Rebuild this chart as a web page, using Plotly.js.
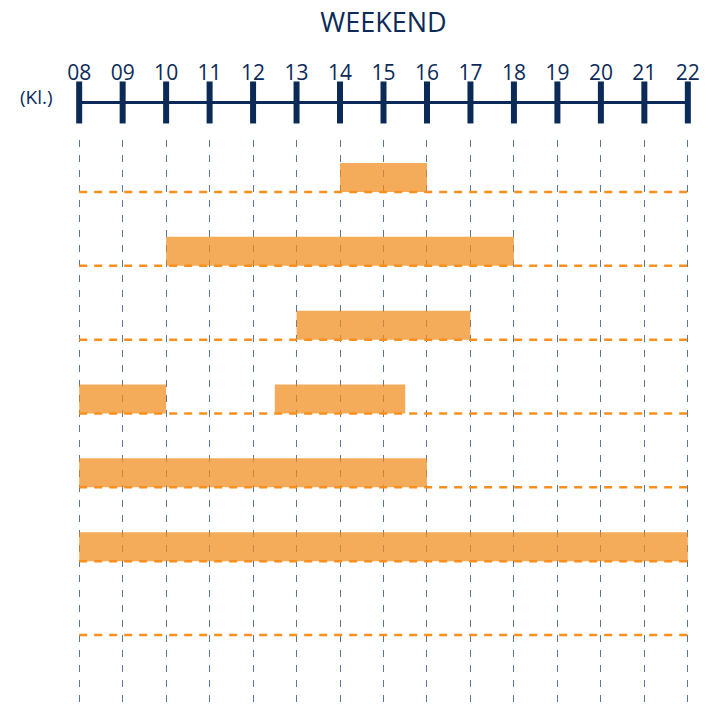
<!DOCTYPE html>
<html>
<head>
<meta charset="utf-8">
<script src="https://cdn.plot.ly/plotly-3.0.1.min.js"></script>
<style>html,body{margin:0;padding:0;background:#fff;}#chart{width:716px;height:708px;}</style>
</head>
<body>
<div id="chart"></div>
<script>
// Hours on the time axis
const hours = [8,9,10,11,12,13,14,15,16,17,18,19,20,21,22];
const hourLabels = ['08','09','10','11','12','13','14','15','16','17','18','19','20','21','22'];
// Rows (top to bottom)
const rows = [1,2,3,4,5,6,7];
// Bar segments: row, start hour, end hour
const segRow   = [1, 2, 3, 4, 4,    5, 6];
const segStart = [14,10,13, 8, 12.5, 8, 8];
const segEnd   = [16,18,17,10, 15.5,16,22];

const navy = '#0b2a58';
const barW = 0.393;

const hMin = hours[0], hMax = hours[hours.length-1];
const pad = 0.05;

const barTrace = {
  type: 'bar', orientation: 'h',
  y: segRow,
  base: segStart,
  x: segEnd.map((e,i)=> e - segStart[i]),
  width: barW, offset: -barW,
  marker: {color: 'rgba(241,140,26,0.72)', line: {width: 0}},
  hoverinfo: 'skip', xaxis: 'x', yaxis: 'y'
};

const bx = [], by = [];
rows.forEach(r => { bx.push(hMin, hMax, null); by.push(r, r, null); });
const baseTrace = {
  type: 'scatter', mode: 'lines', x: bx, y: by,
  line: {color: '#f7901e', width: 2.5, dash: '8px,7px'},
  hoverinfo: 'skip', xaxis: 'x', yaxis: 'y'
};

const axisTrace = {
  type: 'scatter', mode: 'lines+markers',
  x: hours, y: hours.map(()=>0),
  line: {color: navy, width: 3},
  marker: {symbol: 'line-ns', size: 30, color: navy, line: {color: navy, width: 6}},
  cliponaxis: false, hoverinfo: 'skip', xaxis: 'x2', yaxis: 'y2'
};

const layout = {
  width: 716, height: 708,
  margin: {l: 77, r: 26, t: 0, b: 0},
  paper_bgcolor: '#fff', plot_bgcolor: '#fff',
  showlegend: false,
  font: {family: 'Open Sans, sans-serif', color: navy},
  title: {text: 'WEEKEND', font: {size: 27, color: navy, family: 'Open Sans'},
          x: 0.5, xref: 'paper', xanchor: 'center', y: 1 - 23/708, yref: 'container', yanchor: 'middle'},
  xaxis: {range: [hMin - pad, hMax + pad], domain: [0,1], tickvals: hours, showticklabels: false, ticks: '',
          showgrid: true, gridcolor: '#5a7798', gridwidth: 1, griddash: '7px,8px',
          zeroline: false, showline: false, anchor: 'y', fixedrange: true},
  yaxis: {range: [7.989, 0.296], domain: [0, 568/708], showgrid: false, zeroline: false,
          showticklabels: false, ticks: '', showline: false, fixedrange: true},
  xaxis2: {range: [hMin - pad, hMax + pad], anchor: 'y2', side: 'top', tickvals: hours, ticktext: hourLabels,
           ticks: '', showgrid: false, zeroline: false, showline: false,
           tickfont: {size: 21, color: navy, family: 'Open Sans'}, fixedrange: true},
  yaxis2: {range: [-1, 1], domain: [0.8305, 0.8800], visible: false, fixedrange: true},
  annotations: [{text: '(Kl.)', xref: 'paper', yref: 'paper', x: (36-77)/613, y: (708-97)/708,
                 xanchor: 'center', yanchor: 'middle', showarrow: false,
                 font: {size: 19, color: navy, family: 'Open Sans'}}]
};

Plotly.newPlot('chart', [barTrace, baseTrace, axisTrace], layout, {staticPlot: true, displayModeBar: false});
</script>
</body>
</html>
